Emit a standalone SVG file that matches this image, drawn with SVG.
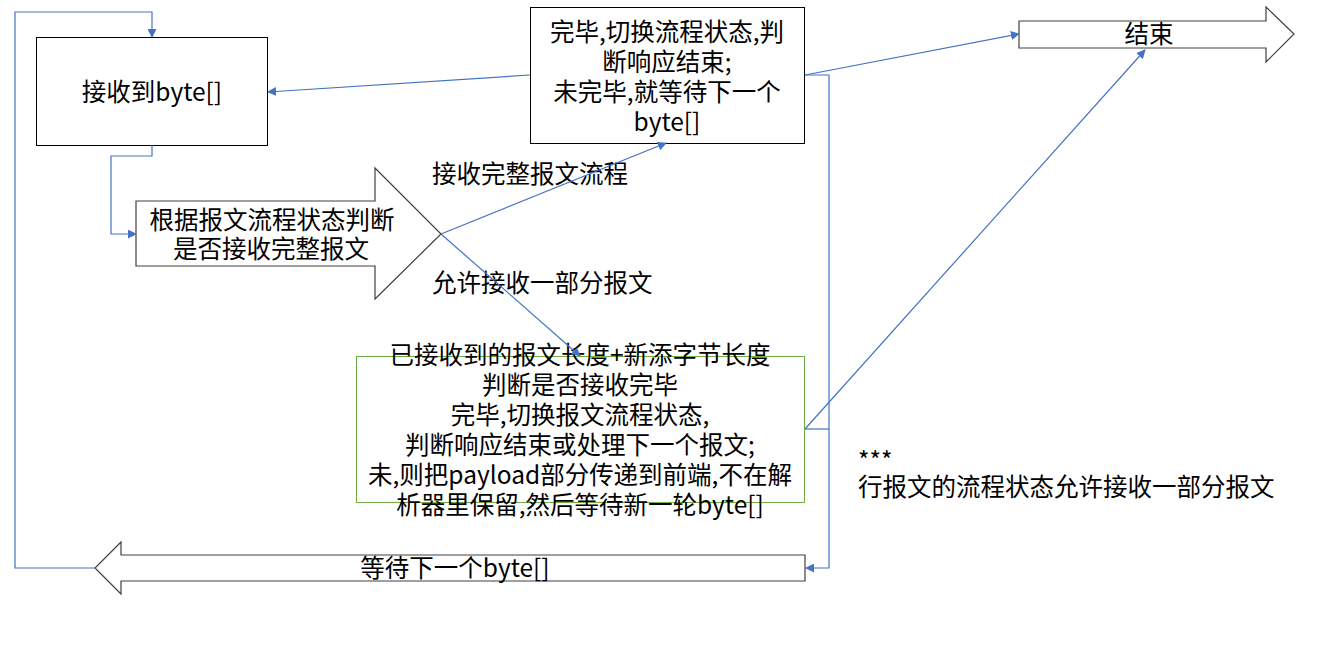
<svg xmlns="http://www.w3.org/2000/svg" width="1321" height="657" viewBox="0 0 1321 657">
<defs>
<style>
text{font-family:"Noto Sans CJK SC","Liberation Sans",sans-serif;font-size:24.5px;fill:#000}
.c{text-anchor:middle}
.box{fill:#fff;stroke:#000;stroke-width:1}
.arr{fill:#fff;stroke:#404040;stroke-width:1.2}
.green{fill:#fff;stroke:#70AD47;stroke-width:1}
.ln{fill:none;stroke:#4472C4;stroke-width:1.2}
</style>
<marker id="ah" viewBox="0 0 10 10" refX="9" refY="5" markerWidth="9" markerHeight="9" markerUnits="userSpaceOnUse" orient="auto">
<path d="M0,0 L10,5 L0,10 z" fill="#4472C4"/>
</marker>
</defs>
<rect width="1321" height="657" fill="#fff"/>
<g id="node-receive">
<rect class="box" x="36.5" y="37.5" width="231" height="108"/>
<text class="c" x="152" y="101">接收到byte[]</text>
</g>
<g id="node-judge">
<polygon class="arr" points="136,201 375,201 375,168 441,234 375,299 375,266 136,266"/>
<text class="c" x="272" y="229">根据报文流程状态判断</text>
<text class="c" x="271" y="258">是否接收完整报文</text>
</g>
<g id="node-complete">
<rect class="box" x="530.5" y="7.5" width="274" height="136"/>
<text class="c" x="667" y="41">完毕,切换流程状态,判</text>
<text class="c" x="667" y="71">断响应结束;</text>
<text class="c" x="667" y="101">未完毕,就等待下一个</text>
<text class="c" x="667" y="131">byte[]</text>
</g>
<g id="node-partial">
<rect class="green" x="356.5" y="356.5" width="448" height="146"/>
<text class="c" x="580" y="364">已接收到的报文长度+新添字节长度</text>
<text class="c" x="580" y="394">判断是否接收完毕</text>
<text class="c" x="580" y="424">完毕,切换报文流程状态,</text>
<text class="c" x="580" y="454">判断响应结束或处理下一个报文;</text>
<text class="c" x="580" y="484">未,则把payload部分传递到前端,不在解</text>
<text class="c" x="580" y="514">析器里保留,然后等待新一轮byte[]</text>
</g>
<g id="node-end">
<polygon class="arr" points="1019,21 1266,21 1266,7 1294,34 1266,62 1266,48 1019,48"/>
<text class="c" x="1149" y="43">结束</text>
</g>
<g id="node-wait">
<polygon class="arr" points="805,555 121,555 121,542 95,568 121,594 121,581 805,581"/>
<text class="c" x="455" y="577">等待下一个byte[]</text>
</g>
<g id="labels">
<text x="432" y="183">接收完整报文流程</text>
<text x="432" y="292">允许接收一部分报文</text>
<text x="858" y="470">***</text>
<text x="858" y="496">行报文的流程状态允许接收一部分报文</text>
</g>
<g id="connectors">
<path class="ln" d="M95,568 H15 V12 H152 V37" marker-end="url(#ah)"/>
<path class="ln" d="M152,145 V156 H111 V234 H136" marker-end="url(#ah)"/>
<path class="ln" d="M530,75 L268,92" marker-end="url(#ah)"/>
<path class="ln" d="M441,234 L666,143" marker-end="url(#ah)"/>
<path class="ln" d="M441,234 L580,356" marker-end="url(#ah)"/>
<path class="ln" d="M805,75 L1019,34" marker-end="url(#ah)"/>
<path class="ln" d="M805,75 H829 V568 H806" marker-end="url(#ah)"/>
<path class="ln" d="M805,429 H829"/>
<path class="ln" d="M805,429 L1145,50" marker-end="url(#ah)"/>
</g>
</svg>
